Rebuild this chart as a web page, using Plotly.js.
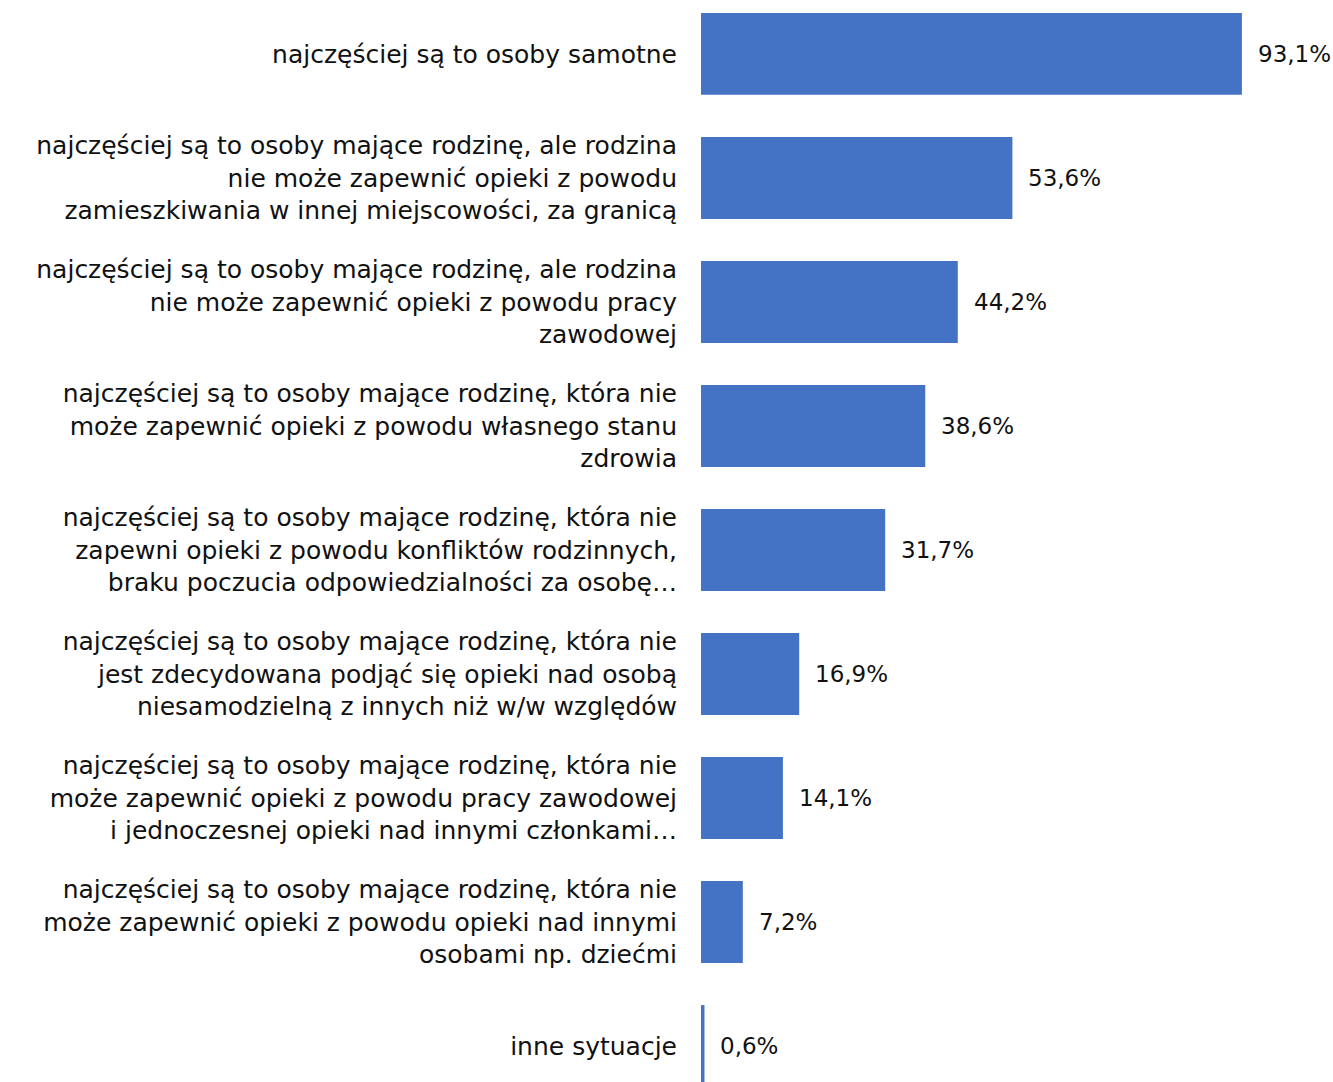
<!DOCTYPE html>
<html>
<head>
<meta charset="utf-8">
<script src="https://cdn.plot.ly/plotly-3.0.1.min.js"></script>
<style>html,body{margin:0;padding:0;background:#fff;}#chart{width:1333px;height:1082px;}</style>
</head>
<body>
<div id="chart"></div>
<script>
const categories = [
  "najczęściej są to osoby samotne",
  "najczęściej są to osoby mające rodzinę, ale rodzina<br>nie może zapewnić opieki z powodu<br>zamieszkiwania w innej miejscowości, za granicą",
  "najczęściej są to osoby mające rodzinę, ale rodzina<br>nie może zapewnić opieki z powodu pracy<br>zawodowej",
  "najczęściej są to osoby mające rodzinę, która nie<br>może zapewnić opieki z powodu własnego stanu<br>zdrowia",
  "najczęściej są to osoby mające rodzinę, która nie<br>zapewni opieki z powodu konfliktów rodzinnych,<br>braku poczucia odpowiedzialności za osobę…",
  "najczęściej są to osoby mające rodzinę, która nie<br>jest zdecydowana podjąć się opieki nad osobą<br>niesamodzielną z innych niż w/w względów",
  "najczęściej są to osoby mające rodzinę, która nie<br>może zapewnić opieki z powodu pracy zawodowej<br>i jednoczesnej opieki nad innymi członkami…",
  "najczęściej są to osoby mające rodzinę, która nie<br>może zapewnić opieki z powodu opieki nad innymi<br>osobami np. dziećmi",
  "inne sytuacje"
];
const values = [93.1, 53.6, 44.2, 38.6, 31.7, 16.9, 14.1, 7.2, 0.6];
const valueLabels = values.map(v => v.toFixed(1).replace('.', ',') + '%');

const fontFamily = "DejaVu Sans, sans-serif";
const textColor = "#111111";

const trace = {
  type: 'bar',
  orientation: 'h',
  x: values,
  y: categories,
  marker: {color: '#4472C4'},
  hoverinfo: 'none'
};

const annotations = values.map((v, i) => ({
  x: v, y: categories[i], xref: 'x', yref: 'y',
  text: valueLabels[i], showarrow: false,
  xanchor: 'left', xshift: 14,
  font: {family: fontFamily, size: 23, color: textColor}
}));

const layout = {
  width: 1333, height: 1082,
  margin: {l: 701, r: 51, t: 0, b: 0, pad: 0},
  paper_bgcolor: '#fff', plot_bgcolor: '#fff',
  bargap: 0.34,
  showlegend: false,
  xaxis: {range: [0, 100], visible: false, fixedrange: true},
  yaxis: {
    type: 'category',
    range: [8.29, -0.435],
    autorange: false,
    showgrid: false, zeroline: false, showline: false,
    ticks: '', ticklabelstandoff: 23,
    tickfont: {family: fontFamily, size: 25, color: textColor}
  },
  annotations: annotations
};

Plotly.newPlot('chart', [trace], layout, {staticPlot: true, displayModeBar: false});
</script>
</body>
</html>
